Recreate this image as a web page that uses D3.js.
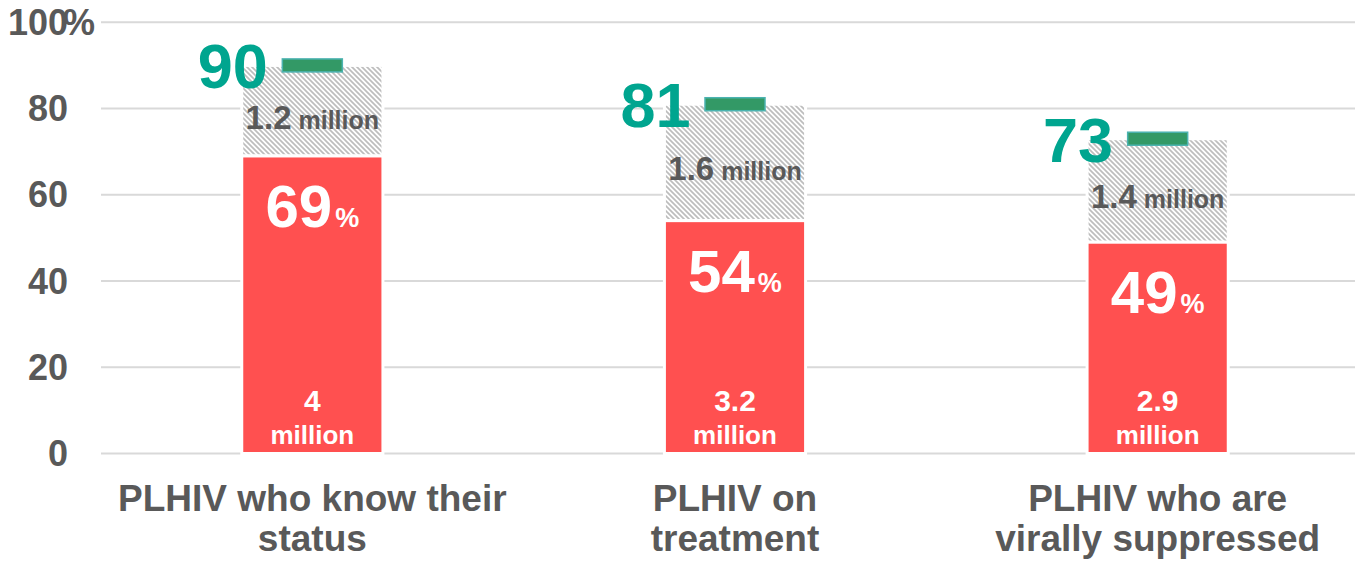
<!DOCTYPE html>
<html>
<head>
<meta charset="utf-8">
<script src="https://cdn.jsdelivr.net/npm/d3@7"></script>
<style>
  html, body { margin: 0; padding: 0; background: #fff; }
  svg { display: block; font-family: "Liberation Sans", Arial, sans-serif; font-weight: bold; }
</style>
</head>
<body>
<svg id="chart" width="1355" height="561"></svg>
<script>
// ---- data ----
const categories = ["PLHIV who know their status", "PLHIV on treatment", "PLHIV who are virally suppressed"];
const categoryLines = [["PLHIV who know their", "status"], ["PLHIV on", "treatment"], ["PLHIV who are", "virally suppressed"]];
const achieved = [69, 54, 49];
const gap = [21, 27, 24];
const targets = [90, 81, 73];
const achievedCount = ["4", "3.2", "2.9"];
const gapCount = ["1.2", "1.6", "1.4"];
const countUnit = "million";
const yTicks = [0, 20, 40, 60, 80, 100];

// ---- layout ----
const svg = d3.select("#chart");
const W = 1355, H = 561;
const x = d3.scaleBand().domain(categories).range([101, 1369]).paddingInner(0.666).paddingOuter(0.333);
const y = d3.scaleLinear().domain([0, 100]).range([453.5, 22.3]);

const red = "#ff5050", teal = "#00a58f", grey = "#595959";

// hatch pattern
const defs = svg.append("defs");
const pat = defs.append("pattern").attr("id", "hatch").attr("patternUnits", "userSpaceOnUse")
  .attr("width", 5).attr("height", 5);
pat.append("rect").attr("width", 5).attr("height", 5).attr("fill", "#fff");
pat.append("path").attr("d", "M-1,-1 L6,6 M-1,4 L1,6 M4,-1 L6,1")
  .attr("stroke", "#bdbdbd").attr("stroke-width", 1.7);

// gridlines
svg.append("g").selectAll("line").data(yTicks).join("line")
  .attr("x1", 101).attr("x2", W)
  .attr("y1", d => y(d)).attr("y2", d => y(d))
  .attr("stroke", "#d9d9d9").attr("stroke-width", 2);

// y tick labels
const yAxis = svg.append("g");
yAxis.selectAll("text").data(yTicks).join("text")
  .attr("font-size", 36).attr("fill", grey)
  .attr("y", d => y(d) + 12.7)
  .each(function (d) {
    const t = d3.select(this);
    if (d === 100) {
      t.text(d);
      const L = this.getComputedTextLength();
      t.attr("x", 68 - L).attr("text-anchor", "start");
      t.append("tspan").attr("dx", -5).text("%");
    } else {
      t.attr("x", 68).attr("text-anchor", "end").text(d);
    }
  });

const idx = d3.range(categories.length);
const bw = x.bandwidth();

// gap (hatched) segments
svg.append("g").selectAll("rect").data(idx).join("rect")
  .attr("x", i => x(categories[i])).attr("width", bw)
  .attr("y", i => y(achieved[i] + gap[i]))
  .attr("height", i => y(achieved[i]) - y(achieved[i] + gap[i]))
  .attr("fill", "url(#hatch)").attr("stroke", "#fff").attr("stroke-width", 3);

// achieved segments
svg.append("g").selectAll("rect").data(idx).join("rect")
  .attr("x", i => x(categories[i])).attr("width", bw)
  .attr("y", i => y(achieved[i]))
  .attr("height", i => y(0) - y(achieved[i]))
  .attr("fill", red).attr("stroke", "#fff").attr("stroke-width", 3);

// target markers
svg.append("g").selectAll("rect").data(idx).join("rect")
  .attr("x", i => x(categories[i]) + bw / 2 - 30).attr("width", 60)
  .attr("y", i => y(targets[i]) - 6.5).attr("height", 13)
  .attr("fill", "#339966").attr("stroke", "#4bb3b0").attr("stroke-width", 1.5);

// target labels
svg.append("g").selectAll("text").data(idx).join("text")
  .attr("x", i => x(categories[i]) + bw / 2 - 44.5)
  .attr("y", i => y(targets[i]) + 23)
  .attr("text-anchor", "end").attr("font-size", 63).attr("fill", teal)
  .text(i => targets[i]);

// achieved percentage labels
const pct = svg.append("g").selectAll("text").data(idx).join("text")
  .attr("x", i => x(categories[i]) + bw / 2)
  .attr("y", i => y(achieved[i]) + 71)
  .attr("text-anchor", "middle").attr("fill", "#fff");
pct.append("tspan").attr("font-size", 60).text(i => achieved[i]);
pct.append("tspan").attr("font-size", 27).attr("dx", 3).text("%");

// gap count labels
const gl = svg.append("g").selectAll("text").data(idx).join("text")
  .attr("x", i => x(categories[i]) + bw / 2)
  .attr("y", i => (y(achieved[i]) + y(achieved[i] + gap[i])) / 2 + 18)
  .attr("text-anchor", "middle").attr("fill", grey);
gl.append("tspan").attr("font-size", 33).text(i => gapCount[i]);
gl.append("tspan").attr("font-size", 25).attr("dx", 7).text(countUnit);

// achieved count labels
const al = svg.append("g").selectAll("g").data(idx).join("g");
al.append("text")
  .attr("x", i => x(categories[i]) + bw / 2).attr("y", y(0) - 43)
  .attr("text-anchor", "middle").attr("font-size", 30).attr("fill", "#fff")
  .text(i => achievedCount[i]);
al.append("text")
  .attr("x", i => x(categories[i]) + bw / 2).attr("y", y(0) - 9.5)
  .attr("text-anchor", "middle").attr("font-size", 26).attr("fill", "#fff")
  .text(countUnit);

// category labels
const cl = svg.append("g").selectAll("text").data(idx).join("text")
  .attr("text-anchor", "middle").attr("font-size", 37).attr("fill", grey);
cl.selectAll("tspan").data(i => categoryLines[i].map((t, k) => ({ t, k, i }))).join("tspan")
  .attr("x", d => x(categories[d.i]) + bw / 2)
  .attr("y", d => 511 + d.k * 40)
  .text(d => d.t);
</script>
</body>
</html>
